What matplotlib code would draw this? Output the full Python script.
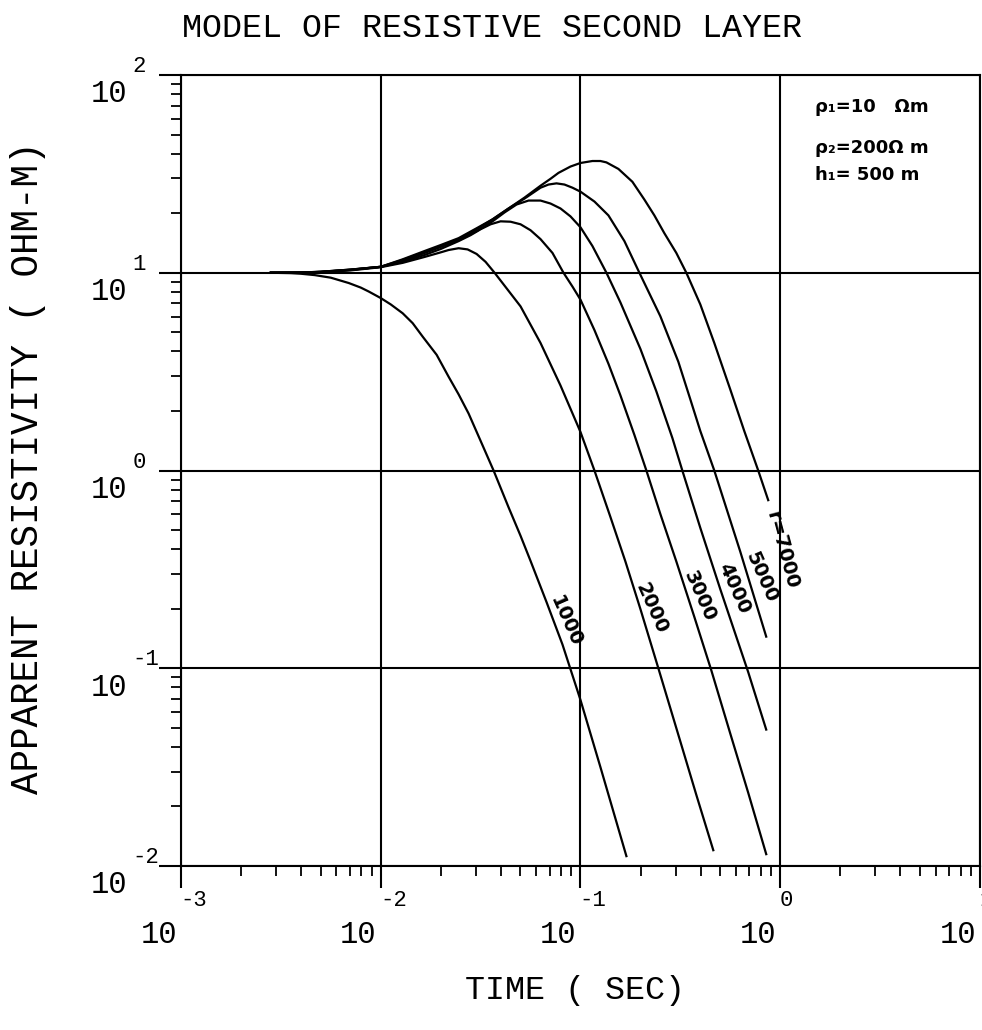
import numpy as np
import matplotlib
matplotlib.use("Agg")
import matplotlib.pyplot as plt

plt.rcParams['font.family'] = ['Liberation Mono', 'DejaVu Sans Mono']

# transmitter-receiver separations r (m)
r_values = [1000, 2000, 3000, 4000, 5000, 7000]

# curves as log10(time, s) and log10(apparent resistivity, ohm-m)
logt_1000 = [-2.55, -2.45, -2.4, -2.33, -2.25, -2.16, -2.1, -2.06, -2.0, -1.95, -1.89,
             -1.84, -1.79, -1.72, -1.66, -1.61, -1.56, -1.5, -1.435, -1.36, -1.3,
             -1.25, -1.17, -1.09, -1.0, -0.9, -0.77]
logr_1000 = [1.0, 0.998, 0.995, 0.988, 0.975, 0.948, 0.925, 0.905, 0.872, 0.84, 0.795,
             0.745, 0.677, 0.585, 0.474, 0.385, 0.288, 0.15, 0.0, -0.186, -0.33,
             -0.457, -0.665, -0.88, -1.16, -1.5, -1.95]

logt_2000 = [-2.55, -2.4, -2.3, -2.15, -2.0, -1.89, -1.78, -1.7, -1.66, -1.61, -1.565,
             -1.52, -1.475, -1.43, -1.3, -1.2, -1.1, -1.0, -0.93, -0.85, -0.775,
             -0.7, -0.61, -0.5, -0.42, -0.335]
logr_2000 = [1.0, 1.001, 1.003, 1.012, 1.028, 1.05, 1.08, 1.103, 1.115, 1.124, 1.118,
             1.095, 1.055, 1.0, 0.83, 0.645, 0.43, 0.195, 0.0, -0.235, -0.46,
             -0.7, -1.0, -1.37, -1.64, -1.92]

logt_3000 = [-2.55, -2.4, -2.3, -2.15, -2.0, -1.89, -1.78, -1.7, -1.61, -1.55, -1.5,
             -1.45, -1.4, -1.35, -1.3, -1.25, -1.2, -1.14, -1.085, -1.04, -1.0, -0.93,
             -0.86, -0.8, -0.73, -0.67, -0.6, -0.52, -0.43, -0.345, -0.25, -0.16, -0.07]
logr_3000 = [1.0, 1.001, 1.004, 1.014, 1.03, 1.055, 1.09, 1.12, 1.16, 1.19, 1.22,
             1.245, 1.26, 1.258, 1.245, 1.215, 1.17, 1.1, 1.0, 0.93, 0.864, 0.71,
             0.54, 0.38, 0.18, 0.0, -0.22, -0.46, -0.74, -1.01, -1.33, -1.63, -1.94]

logt_4000 = [-2.55, -2.4, -2.3, -2.15, -2.0, -1.89, -1.78, -1.7, -1.61, -1.52, -1.44,
             -1.38, -1.32, -1.26, -1.2, -1.15, -1.1, -1.05, -1.0, -0.94, -0.87, -0.8,
             -0.7, -0.62, -0.54, -0.49, -0.4, -0.3, -0.2, -0.16, -0.07]
logr_4000 = [1.0, 1.001, 1.004, 1.015, 1.03, 1.06, 1.1, 1.13, 1.165, 1.21, 1.26,
             1.305, 1.345, 1.365, 1.365, 1.35, 1.325, 1.285, 1.23, 1.135, 1.0, 0.85,
             0.615, 0.4, 0.165, 0.0, -0.29, -0.6, -0.9, -1.02, -1.31]

logt_5000 = [-2.55, -2.4, -2.3, -2.15, -2.0, -1.89, -1.78, -1.7, -1.61, -1.52, -1.44,
             -1.36, -1.28, -1.2, -1.16, -1.12, -1.08, -1.04, -1.0, -0.93, -0.86, -0.78,
             -0.705, -0.6, -0.51, -0.45, -0.4, -0.33, -0.2, -0.07]
logr_5000 = [1.0, 1.001, 1.005, 1.016, 1.03, 1.065, 1.105, 1.135, 1.17, 1.22, 1.27,
             1.325, 1.375, 1.43, 1.446, 1.452, 1.446, 1.43, 1.41, 1.36, 1.29, 1.16,
             1.0, 0.78, 0.55, 0.36, 0.2, 0.0, -0.41, -0.84]

logt_7000 = [-2.55, -2.4, -2.3, -2.15, -2.0, -1.89, -1.78, -1.7, -1.61, -1.52, -1.44,
             -1.36, -1.28, -1.2, -1.15, -1.11, -1.05, -1.0, -0.94, -0.9, -0.87, -0.81,
             -0.74, -0.68, -0.63, -0.58, -0.52, -0.47, -0.4, -0.33, -0.25, -0.18,
             -0.11, -0.06]
logr_7000 = [1.0, 1.001, 1.005, 1.016, 1.03, 1.068, 1.11, 1.14, 1.175, 1.225, 1.27,
             1.325, 1.38, 1.44, 1.475, 1.505, 1.537, 1.555, 1.565, 1.565, 1.558, 1.525,
             1.46, 1.37, 1.29, 1.2, 1.1, 1.0, 0.84, 0.645, 0.41, 0.2,
             0.0, -0.15]

x_decades = [1e-3, 1e-2, 1e-1, 1e0, 1e1]
x_exps = ["-3", "-2", "-1", "0", "1"]
y_decades = [1e-2, 1e-1, 1e0, 1e1, 1e2]
y_exps = ["-2", "-1", "0", "1", "2"]

curves = [(logt_1000, logr_1000), (logt_2000, logr_2000), (logt_3000, logr_3000),
          (logt_4000, logr_4000), (logt_5000, logr_5000), (logt_7000, logr_7000)]

fig = plt.figure(figsize=(9.82, 10.30), dpi=100)
ax = fig.add_axes([0.1843, 0.1592, 0.8136, 0.768])
ax.set_xscale('log')
ax.set_yscale('log')
ax.set_xlim(1e-3, 1e1)
ax.set_ylim(1e-2, 1e2)

for lt, lr in curves:
    ax.plot(10 ** np.array(lt), 10 ** np.array(lr), color='black', lw=1.6)

ax.grid(True, which='major', color='black', lw=1.5)
for s in ax.spines.values():
    s.set_linewidth(1.5)

ax.tick_params(which='major', direction='out', length=16, width=1.5,
               labelbottom=False, labelleft=False)
ax.tick_params(which='minor', direction='out', length=7, width=1.3)

# tick labels drawn plotter style: big "10" with raised exponent
for v, e in zip(x_decades, x_exps):
    ax.annotate("10", xy=(v, 1e-2), xycoords='data', xytext=(-3, -50),
                textcoords='offset points', ha='right', va='center', fontsize=22,
                annotation_clip=False)
    ax.annotate(e, xy=(v, 1e-2), xycoords='data', xytext=(-0.5, -25),
                textcoords='offset points', ha='left', va='center', fontsize=16,
                annotation_clip=False)
for v, e in zip(y_decades, y_exps):
    ax.annotate("10", xy=(1e-3, v), xycoords='data', xytext=(-39, -14),
                textcoords='offset points', ha='right', va='center', fontsize=22,
                annotation_clip=False)
    ax.annotate(e, xy=(1e-3, v), xycoords='data', xytext=(-35, 6),
                textcoords='offset points', ha='left', va='center', fontsize=16,
                annotation_clip=False)

# curve labels
lab_pos = [(0.0841, 0.172), (0.226, 0.202), (0.394, 0.230),
           (0.589, 0.255), (0.804, 0.287), (1.02, 0.398)]
for i, (r, (x, y)) in enumerate(zip(r_values, lab_pos)):
    txt = str(r) if i < len(r_values) - 1 else "r=" + str(r)
    rot = -66 if i < len(r_values) - 1 else -75
    ax.text(x, y, txt, rotation=rot, ha='center', va='center', fontsize=14,
            fontweight='bold', family='DejaVu Sans', rotation_mode='anchor')

# model parameters
fig.text(815 / 982, 1 - 107 / 1030, "ρ₁=10   Ωm", fontsize=13, fontweight='bold',
         family='DejaVu Sans', va='center')
fig.text(815 / 982, 1 - 148 / 1030, "ρ₂=200Ω m", fontsize=13, fontweight='bold',
         family='DejaVu Sans', va='center')
fig.text(815 / 982, 1 - 175 / 1030, "h₁= 500 m", fontsize=13, fontweight='bold',
         family='DejaVu Sans', va='center')

fig.text(492 / 982, 1 - 29 / 1030, "MODEL OF RESISTIVE SECOND LAYER",
         ha='center', va='center', fontsize=24)
fig.text(28 / 982, 1 - 468 / 1030, "APPARENT RESISTIVITY ( OHM-M)",
         ha='center', va='center', fontsize=27, rotation=90)
fig.text(575 / 982, 1 - 990 / 1030, "TIME ( SEC)",
         ha='center', va='center', fontsize=24)

fig.savefig("out.png", dpi=100)
